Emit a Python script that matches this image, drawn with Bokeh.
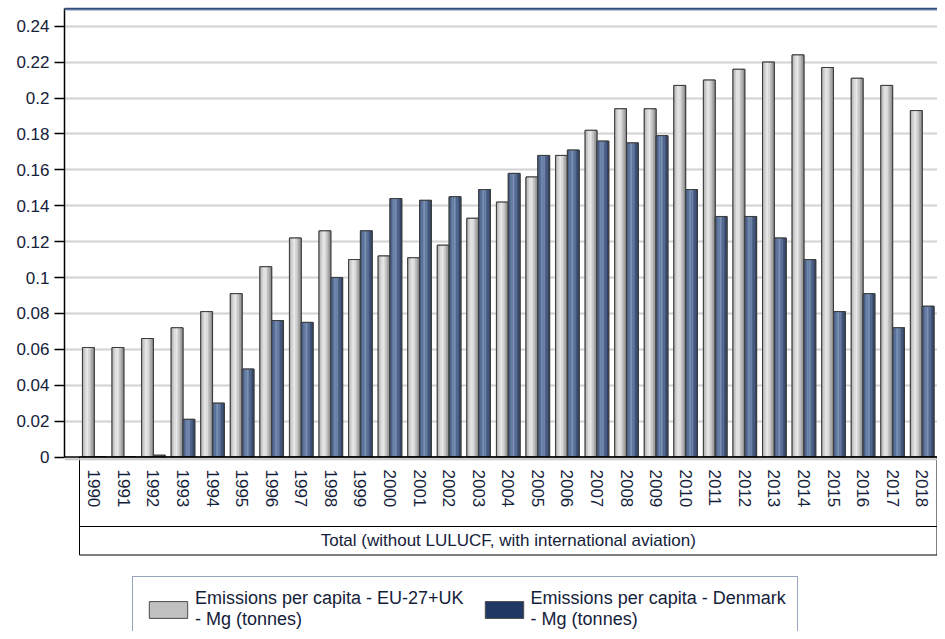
import numpy as np
from bokeh.plotting import figure
from bokeh.models import ColumnDataSource, FixedTicker, Span, Legend, LegendItem, Range1d
from bokeh.embed import file_html
from bokeh.resources import INLINE
from bokeh.core.properties import value

# ---------------- data ----------------
years = ["1990", "1991", "1992", "1993", "1994", "1995", "1996", "1997", "1998", "1999",
         "2000", "2001", "2002", "2003", "2004", "2005", "2006", "2007", "2008", "2009",
         "2010", "2011", "2012", "2013", "2014", "2015", "2016", "2017", "2018"]
eu_uk = [0.061, 0.061, 0.066, 0.072, 0.081, 0.091, 0.106, 0.122, 0.126, 0.110,
         0.112, 0.111, 0.118, 0.133, 0.142, 0.156, 0.168, 0.182, 0.194, 0.194,
         0.207, 0.210, 0.216, 0.220, 0.224, 0.217, 0.211, 0.207, 0.193]
denmark = [0.0, 0.0, 0.001, 0.021, 0.030, 0.049, 0.076, 0.075, 0.100, 0.126,
           0.144, 0.143, 0.145, 0.149, 0.158, 0.168, 0.171, 0.176, 0.175, 0.179,
           0.149, 0.134, 0.134, 0.122, 0.110, 0.081, 0.091, 0.072, 0.084]
y_ticks = [0, 0.02, 0.04, 0.06, 0.08, 0.1, 0.12, 0.14, 0.16, 0.18, 0.2, 0.22, 0.24]
y_tick_labels = ["0", "0.02", "0.04", "0.06", "0.08", "0.1", "0.12", "0.14", "0.16",
                 "0.18", "0.2", "0.22", "0.24"]
category_title = "Total (without LULUCF, with international aviation)"
series_names = ["Emissions per capita - EU-27+UK\n- Mg (tonnes)",
                "Emissions per capita - Denmark\n- Mg (tonnes)"]

# ---------------- layout (pixels) ----------------
W, H = 937, 631
FRAME_LEFT = 64            # canvas px of y-axis line
CAT_LEFT, CAT_RIGHT = 79, 936.5   # canvas px of category area
ZERO_Y = 456.5             # canvas px of value 0
PX_PER_UNIT = 1795.0
n = len(years)
pxu_x = (CAT_RIGHT - CAT_LEFT) / n
x_start = -0.5 - (CAT_LEFT - FRAME_LEFT) / pxu_x
x_end = -0.5 + (W - CAT_LEFT) / pxu_x
y_end = ZERO_Y / PX_PER_UNIT
y_start = -(H - ZERO_Y) / PX_PER_UNIT


def vy(canvas_y):
    return (ZERO_Y - canvas_y) / PX_PER_UNIT


FONT = value("Liberation Sans")
TEXT_COLOR = "#14213a"

p = figure(width=W, height=H, x_range=Range1d(x_start, x_end), y_range=Range1d(y_start, y_end),
           output_backend="svg", toolbar_location=None, x_axis_type=None,
           min_border_left=FRAME_LEFT, min_border_right=0, min_border_top=0, min_border_bottom=0)
p.outline_line_color = None
p.background_fill_color = "white"
p.border_fill_color = "white"
p.xgrid.visible = False

ya = p.yaxis[0]
ya.ticker = FixedTicker(ticks=y_ticks)
ya.major_label_overrides = {t: lbl for t, lbl in zip(y_ticks, y_tick_labels)}
ya.bounds = (0, vy(8))
ya.axis_line_color = "black"
ya.axis_line_width = 1.5
ya.major_tick_line_color = "black"
ya.major_tick_line_width = 1.5
ya.major_tick_out = 10
ya.major_tick_in = 0
ya.minor_tick_line_color = None
ya.major_label_standoff = 5
ya.major_label_text_font = "Liberation Sans"
ya.major_label_text_font_size = "17px"
ya.major_label_text_color = TEXT_COLOR

p.ygrid.ticker = FixedTicker(ticks=y_ticks[1:])
p.ygrid.grid_line_color = "#d2d2d2"
p.ygrid.grid_line_width = 2

# top border (dark blue with a light line below)
p.add_layout(Span(location=vy(10), dimension="width", line_color="#b8c4d8", line_width=1))
p.add_layout(Span(location=vy(8.3), dimension="width", line_color="#2f4b7c", line_width=2))

# ---------------- bars ----------------
idx = np.arange(n)
bar_w = 0.4
offsets = [-0.2, 0.2]
grey_strips = ["#b4b4b4", "#cbcbcb", "#e0e0e0", "#e9e9e9", "#dadada", "#c2c2c2", "#a6a6a6", "#8c8c8c"]
blue_strips = ["#4a6086", "#5c7298", "#7087ac", "#7b92b6", "#6b81a6", "#576a8f", "#45587b", "#364766"]
base_fill = ["#c0c0c0", "#1f3864"]
series = [eu_uk, denmark]
strip_sets = [grey_strips, blue_strips]
base_renderers = []
for vals, off, strips, bf in zip(series, offsets, strip_sets, base_fill):
    centers = idx + off
    vals = np.array(vals)
    base = p.vbar(x=centers, top=vals, bottom=0, width=bar_w, fill_color=bf,
                  line_color="#4a4a4a", line_width=1)
    base_renderers.append(base)
    ns = len(strips)
    sw = bar_w / ns
    xs, tops, cols = [], [], []
    for k, c in enumerate(strips):
        xs.extend(centers - bar_w / 2 + (k + 0.5) * sw)
        tops.extend(vals)
        cols.extend([c] * n)
    src = ColumnDataSource(dict(x=xs, top=tops, color=cols))
    p.vbar(x="x", top="top", bottom=0, width=sw * 1.08, fill_color="color", line_color=None, source=src)
    p.vbar(x=centers, top=vals, bottom=0, width=bar_w, fill_color=None,
           line_color="#3c3c3c", line_width=1)

# shadow + zero line
p.add_layout(Span(location=vy(458.8), dimension="width", line_color="#c8c8c8", line_width=2))
p.add_layout(Span(location=0, dimension="width", line_color="black", line_width=1.5))

# ---------------- category boxes ----------------
yb1 = vy(526)
yb2 = vy(554.5)
p.quad(left=[-0.5], right=[n - 0.5], top=[0], bottom=[yb1], fill_color="white", line_color="black", line_width=1)
p.quad(left=[-0.5], right=[n - 0.5], top=[yb1], bottom=[yb2], fill_color="white", line_color="black", line_width=1)
p.text(x=idx, y=[vy(469)] * n, text=years, angle=-np.pi / 2, text_align="left", text_baseline="middle",
       text_font=FONT, text_font_size="17px", text_color=TEXT_COLOR)
p.text(x=[(n - 1) / 2], y=[(yb1 + yb2) / 2], text=[category_title], text_align="center",
       text_baseline="middle", text_font=FONT, text_font_size="17px", text_color=TEXT_COLOR)

# ---------------- legend ----------------
legend = Legend(items=[LegendItem(label=series_names[0], renderers=[base_renderers[0]]),
                       LegendItem(label=series_names[1], renderers=[base_renderers[1]])],
                orientation="horizontal", location=(68, -11), glyph_width=48, glyph_height=21,
                label_standoff=3, spacing=16, padding=11, margin=0,
                label_text_font="Liberation Sans", label_text_font_size="18px",
                label_text_color=TEXT_COLOR, label_text_line_height=1.15,
                border_line_color="#2f4b7c", border_line_width=1, background_fill_color="white",
                background_fill_alpha=1)
p.add_layout(legend)

open("out.html", "w").write(file_html(p, INLINE))
